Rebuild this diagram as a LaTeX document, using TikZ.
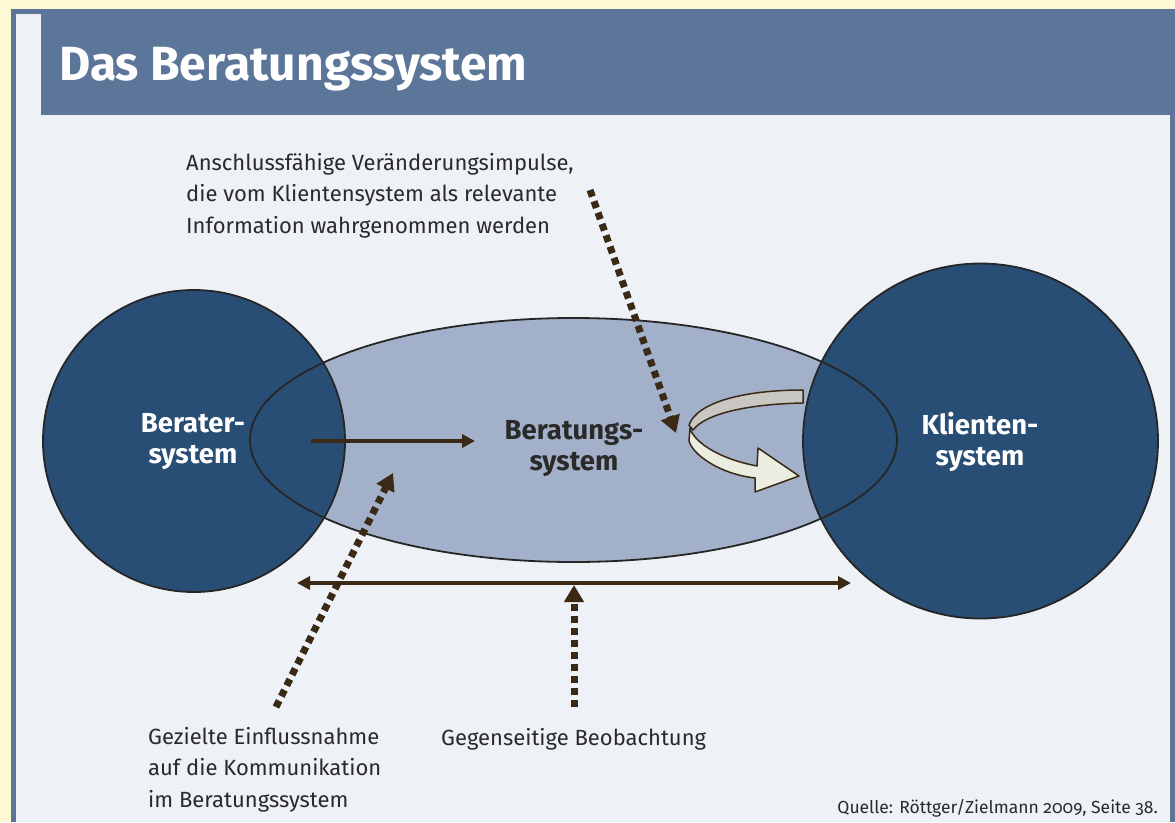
\documentclass[tikz,border=0pt]{standalone}
\usepackage{fontspec}
\setmainfont{Fira Sans}[Numbers=OldStyle]
\usetikzlibrary{arrows.meta,shapes.geometric}

\definecolor{cream}{HTML}{FFF8D5}
\definecolor{frameblue}{HTML}{5C7699}
\definecolor{panel}{HTML}{EEF1F6}
\definecolor{sysblue}{HTML}{294E76}
\definecolor{ellfill}{HTML}{A2B0C9}
\definecolor{ink}{HTML}{3A2915}
\definecolor{txt}{HTML}{2A2A2A}
\definecolor{ribbonback}{HTML}{C9C7C1}
\definecolor{ribbonfront}{HTML}{EBEDE0}

\tikzset{
  sysbody/.style={circle, fill=sysblue, draw=black!85, line width=1.8pt, inner sep=0pt},
  sysname/.style={align=center, font=\bfseries\fontsize{27.5}{31}\selectfont, inner sep=0pt},
  note/.style={align=left, text=txt, inner sep=0pt, font=\fontsize{22}{31.5}\selectfont},
  solidarrow/.style={draw=ink, line width=4pt},
  dotarrow/.style={draw=ink, line width=7pt, dash pattern=on 7pt off 5pt,
    -{Triangle[length=17pt,width=19pt]}},
  ribbon/.style={draw=ink, line width=1.5pt, line join=round},
}

\begin{document}
\begin{tikzpicture}[x=1pt,y=-1pt]
\useasboundingbox (0,0) rectangle (1175,822);

% page, frame and panel
\fill[cream] (0,0) rectangle (1175,822);
\fill[frameblue] (11,9) rectangle (1175,822);
\fill[panel] (16,14) rectangle (1170,822);
\draw[frameblue!70!gray, line width=1pt] (1170.5,115) -- (1170.5,822);
\fill[frameblue] (41,9) rectangle (1175,115);
\node[anchor=base west, inner sep=0pt, text=white,
      font=\bfseries\fontsize{48}{56}\selectfont] (titel) at (59,80) {Das Beratungssystem};

% overlapping systems
\node[ellipse, fill=ellfill, minimum width=647pt, minimum height=244pt, inner sep=0pt]
  (beratung) at (573.5,440) {};
\node[sysbody, minimum size=302pt] (berater) at (194,441) {};
\node[sysbody, minimum size=355pt] (klient) at (980.5,441) {};
\node[ellipse, draw=black!85, line width=1.8pt, minimum width=647pt, minimum height=244pt, inner sep=0pt]
  (beratungrand) at (beratung.center) {};

\node[sysname, text=white] (beraterlabel) at (193,442) {Berater-\\system};
\node[sysname, text=white] (klientlabel) at (980,442) {Klienten-\\system};
\node[sysname, text=txt] (beratunglabel) at (574,449) {Beratungs-\\system};

% connectors
\coordinate (einS) at (311,441);
\coordinate (einE) at (475,441);
\draw[solidarrow, -{Triangle[length=13pt,width=13pt]}] (einS) -- (einE);

\coordinate (obsL) at (297,583);
\coordinate (obsR) at (851,583);
\draw[solidarrow, {Triangle[length=13pt,width=13pt]}-{Triangle[length=13pt,width=13pt]}] (obsL) -- (obsR);

\coordinate (impS) at (590,190);
\coordinate (impE) at (676,433);
\draw[dotarrow] (impS) -- (impE);

\coordinate (zielS) at (276,707);
\coordinate (zielE) at (393,473);
\draw[dotarrow] (zielS) -- (zielE);

\coordinate (beoS) at (574,707);
\coordinate (beoE) at (574,585);
\draw[dotarrow] (beoS) -- (beoE);

% turning ribbon arrow
\filldraw[ribbon, fill=ribbonback]
  (803,390) -- (803,403) .. controls (750,404) and (706,413) .. (693,430)
  -- (689,425) .. controls (697,402) and (745,390) .. cycle;
\filldraw[ribbon, fill=ribbonfront]
  (690,428) -- (689,441) .. controls (693,455) and (720,474) .. (755,478)
  -- (755,492) -- (799,476) -- (758,448) -- (757,466)
  .. controls (715,458) and (693,440) .. cycle;

% notes (base anchor sits on the last line)
\node[note, anchor=base west] (impulse) at (186,233)
  {Anschlussfähige Veränderungsimpulse,\\die vom Klientensystem als relevante\\Information wahrgenommen werden};
\node[note, anchor=base west] (ziel) at (148,807)
  {Gezielte Einflussnahme\\auf die Kommunikation\\im Beratungssystem};
\node[note, anchor=base west] (beob) at (441,745) {Gegenseitige Beobachtung};
\node[anchor=base east, inner sep=0pt, text=txt, font=\fontsize{17.5}{20}\selectfont]
  (quelle) at (1158,813) {Quelle: Röttger/Zielmann 2009, Seite 38.};
\end{tikzpicture}
\end{document}
